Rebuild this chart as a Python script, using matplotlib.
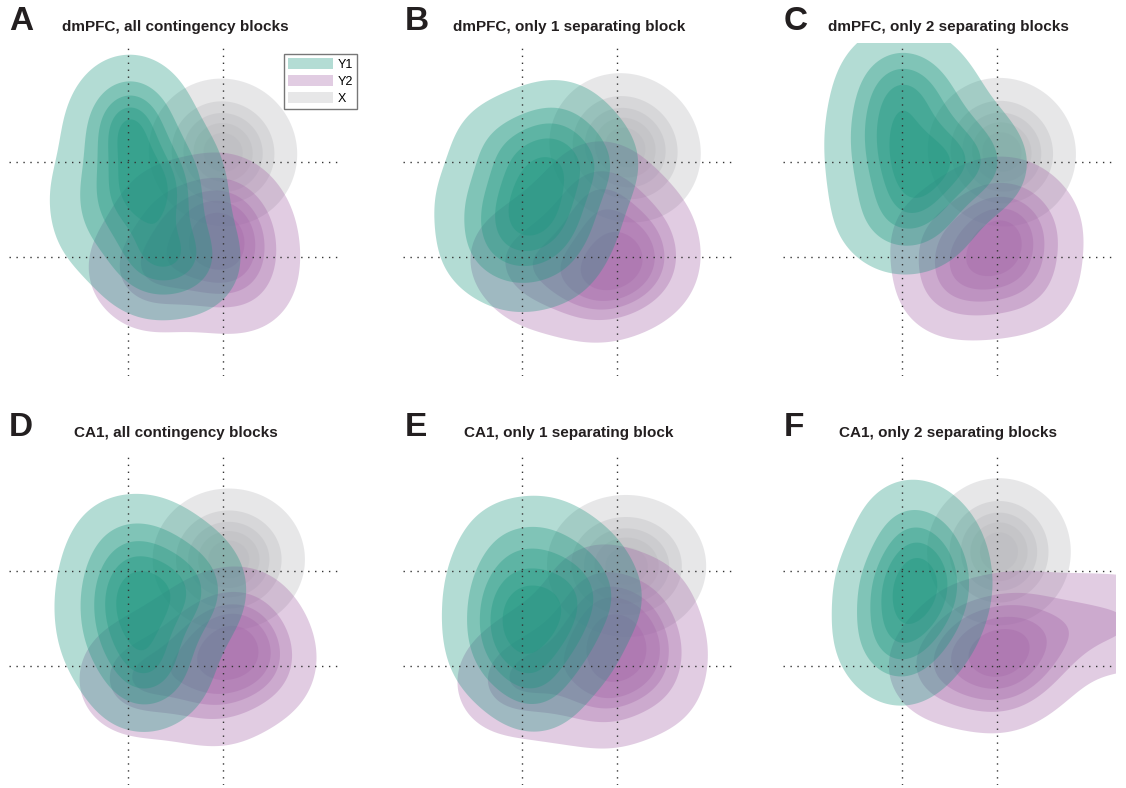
import numpy as np
import matplotlib
matplotlib.use("Agg")
from matplotlib import pyplot as plt
from matplotlib.patches import Patch

plt.rcParams['font.family'] = ['Liberation Sans', 'DejaVu Sans']

# panel letters and titles
letters = ['A', 'B', 'C', 'D', 'E', 'F']
titles = ['dmPFC, all contingency blocks', 'dmPFC, only 1 separating block',
          'dmPFC, only 2 separating blocks', 'CA1, all contingency blocks',
          'CA1, only 1 separating block', 'CA1, only 2 separating blocks']
groups = ['Y1', 'Y2', 'X']

# population vectors projected on the two axes, one list per panel and group
A_Y1 = [(0.15, 0.65), (0.1, 0.75), (0.2, 0.55), (-0.1, 1.05), (0.3, 1.1), (0.0, 1.45),
        (-0.15, 1.3), (-0.35, 0.7), (-0.3, 0.3), (0.55, 0.55), (0.5, 0.9), (0.35, 0.0),
        (0.6, 0.1), (0.05, 0.05), (0.25, -0.15), (0.0, 1.65), (0.15, 1.45), (0.7, -0.1)]
A_Y2 = [(1.0, 0.2), (0.95, 0.3), (1.05, 0.1), (1.2, 0.35), (1.25, 0.0), (0.8, 0.05),
        (0.75, 0.45), (1.0, 0.6), (0.9, -0.25), (0.55, -0.15), (0.3, 0.15), (0.05, -0.1),
        (0.4, 0.5), (1.25, -0.3), (0.25, -0.3)]
A_X = [(1.0, 1.1), (1.1, 1.2), (0.88, 1.22), (1.12, 0.98), (0.92, 1.0), (0.98, 1.25),
       (1.16, 1.08), (0.82, 1.12), (1.02, 0.95)]

B_Y1 = [(0.1, 0.5), (0.05, 0.65), (0.2, 0.4), (0.2, 1.3), (-0.25, 1.15), (-0.45, 0.6),
        (-0.4, 0.1), (-0.05, -0.1), (0.35, 0.0), (0.55, 0.4), (0.55, 0.9), (0.3, 0.85),
        (-0.1, 0.3), (0.0, 1.0), (0.75, 1.0), (0.45, 1.35)]
B_Y2 = [(0.95, -0.1), (0.9, 0.0), (1.05, 0.05), (1.2, -0.2), (0.75, -0.3), (0.5, -0.25),
        (0.15, -0.25), (-0.1, 0.0), (0.3, 0.25), (0.65, 0.45), (1.0, 0.55), (1.3, 0.3),
        (0.85, -0.3), (1.35, -0.05), (0.8, 0.75)]
B_X = [(1.08, 1.15), (1.18, 1.25), (0.98, 1.25), (1.18, 1.05), (0.98, 1.05), (1.0, 1.32),
       (1.25, 1.1), (0.88, 1.22), (1.25, 0.95)]

C_Y1 = [(0.15, 0.85), (0.1, 1.0), (0.2, 0.7), (0.0, 1.25), (-0.1, 1.5), (-0.2, 1.75),
        (-0.05, 1.95), (-0.3, 0.9), (-0.25, 0.45), (0.0, 0.3), (0.3, 0.4), (0.45, 0.9),
        (0.7, 1.05), (0.85, 0.95), (0.5, 1.3), (-0.3, 1.3), (0.35, 1.6), (0.2, 1.85)]
C_Y2 = [(1.0, 0.2), (1.05, 0.3), (0.95, 0.1), (1.25, 0.15), (1.2, -0.2), (0.8, -0.2),
        (0.6, 0.15), (0.55, -0.25), (0.9, -0.3), (1.15, 0.55), (0.8, 0.5), (1.4, 0.3),
        (0.35, 0.2), (0.45, -0.3), (1.35, -0.25)]
C_X = [(1.05, 1.1), (1.15, 1.2), (0.95, 1.2), (1.15, 1.0), (0.95, 1.0), (1.0, 1.28),
       (1.22, 1.08), (0.88, 1.15), (1.1, 0.92)]

D_Y1 = [(0.15, 0.75), (0.1, 0.85), (0.25, 0.65), (-0.2, 0.95), (-0.25, 0.6), (-0.1, 1.3),
        (0.25, 1.3), (0.55, 1.05), (0.65, 0.6), (0.4, 0.2), (0.05, 0.05), (-0.2, 0.25),
        (0.1, 0.4), (0.75, 0.85), (0.1, -0.2), (0.35, -0.1)]
D_Y2 = [(1.05, 0.15), (1.0, 0.05), (1.15, 0.25), (0.8, 0.1), (1.35, 0.3), (1.35, -0.1),
        (0.7, -0.25), (0.35, -0.2), (0.05, -0.05), (0.85, 0.45), (1.2, 0.55), (1.0, -0.35),
        (1.45, 0.05), (0.45, 0.2), (0.0, -0.2)]
D_X = [(1.06, 1.12), (1.18, 1.18), (0.94, 1.18), (1.18, 1.06), (0.94, 1.06), (1.06, 1.2),
       (1.28, 1.12), (0.84, 1.12), (1.06, 1.04)]

E_Y1 = [(0.1, 0.6), (0.05, 0.75), (0.2, 0.5), (-0.3, 0.85), (-0.3, 0.45), (-0.15, 1.25),
        (0.25, 1.3), (0.6, 1.05), (0.8, 0.7), (0.55, 0.2), (0.1, -0.05), (-0.25, 0.1),
        (0.4, 0.65), (0.0, 0.3), (0.15, -0.2)]
E_Y2 = [(1.0, 0.15), (1.05, 0.05), (1.15, 0.3), (0.85, 0.2), (1.45, 0.2), (1.4, -0.2),
        (0.75, -0.25), (0.35, -0.3), (-0.05, -0.1), (0.9, 0.6), (1.3, 0.65), (0.55, 0.35),
        (0.95, -0.35), (0.2, 0.15), (-0.2, -0.2), (0.8, 0.8)]
E_X = [(1.1, 1.05), (1.25, 1.12), (0.95, 1.12), (1.25, 0.98), (0.95, 0.98), (1.1, 1.12),
       (1.38, 1.05), (0.82, 1.08), (1.1, 0.98)]

F_Y1 = [(0.22, 0.88), (0.2, 1.0), (0.25, 0.75), (0.0, 0.95), (0.05, 1.3), (0.35, 1.25),
        (0.4, 0.85), (0.3, 0.4), (0.0, 0.25), (-0.1, 0.55), (0.15, 0.6), (0.1, 1.5),
        (0.0, 0.05), (-0.2, 0.3), (-0.2, 0.85)]
F_Y2 = [(1.05, 0.15), (1.0, 0.05), (1.15, 0.25), (0.85, 0.15), (1.3, 0.05), (1.0, -0.15),
        (0.6, -0.05), (0.35, 0.0), (0.7, 0.35), (1.25, 0.45), (1.55, 0.3), (1.9, 0.45),
        (2.4, 0.45)]
F_X = [(1.02, 1.2), (1.1, 1.3), (0.94, 1.3), (1.1, 1.1), (0.94, 1.1), (1.02, 1.36),
       (1.12, 1.2), (0.92, 1.2), (1.02, 1.05)]

panels = [(A_Y1, A_Y2, A_X), (B_Y1, B_Y2, B_X), (C_Y1, C_Y2, C_X),
          (D_Y1, D_Y2, D_X), (E_Y1, E_Y2, E_X), (F_Y1, F_Y2, F_X)]

colors = {'Y1': '#1a957e', 'Y2': '#a466a8', 'X': '#b8b8bc'}
ALPHA = 0.33
BW = 0.3
PROPS = [0.05, 0.24, 0.43, 0.62, 0.81]

grid = np.linspace(-2.2, 3.6, 291)
GX, GY = np.meshgrid(grid, grid)


def density(points):
    pts = np.asarray(points, dtype=float)
    z = np.zeros_like(GX)
    for px, py in pts:
        z += np.exp(-((GX - px) ** 2 + (GY - py) ** 2) / (2 * BW ** 2))
    return z


def iso_levels(z):
    # density thresholds that leave the given share of the mass outside
    vals = np.sort(z.ravel())
    cum = np.cumsum(vals)
    cum /= cum[-1]
    return [vals[np.searchsorted(cum, p)] for p in PROPS]


fig = plt.figure(figsize=(11.26, 7.88), dpi=100)
W, H = 1126, 788

col_left = [9, 403, 783]
row_top = [43, 452]
letter_x = [9, 405, 784]
title_x = [[62, 453, 828], [74, 464, 839]]
letter_y = [22, 428]

for i, (letter, title, data) in enumerate(zip(letters, titles, panels)):
    r, c = divmod(i, 3)
    ax = fig.add_axes([col_left[c] / W, 1 - (row_top[r] + 333) / H, 333 / W, 333 / H])
    ax.set_xlim(-1.25, 2.25)
    ax.set_ylim(-1.25, 2.25)
    ax.axis('off')

    # draw X first, then Y2, then Y1 on top
    for name, pts in [('X', data[2]), ('Y2', data[1]), ('Y1', data[0])]:
        z = density(pts)
        top = z.max() * 1.01
        for lvl in iso_levels(z):
            ax.contourf(GX, GY, z, levels=[lvl, top], colors=[colors[name]], alpha=ALPHA,
                        antialiased=True)

    for v in (0, 1):
        ax.axvline(v, color='#333333', lw=1.0, ls=(0, (1, 4)), zorder=10)
        ax.axhline(v, color='#333333', lw=1.0, ls=(0, (1, 4)), zorder=10)

    ty = letter_y[r]
    fig.text(letter_x[c] / W, 1 - ty / H, letter, fontsize=24, fontweight='bold',
             ha='left', va='center', color='#231f20')
    fig.text(title_x[r][c] / W, 1 - (ty + 5) / H, title, fontsize=11, fontweight='bold',
             ha='left', va='center', color='#231f20')

    if i == 0:
        handles = [Patch(facecolor=colors[g], alpha=ALPHA, edgecolor='none') for g in groups]
        leg = ax.legend(handles, groups, loc='upper right',
                        bbox_to_anchor=(357 / W, 1 - 54 / H), bbox_transform=fig.transFigure,
                        fontsize=9, frameon=True, fancybox=False, handlelength=3.6,
                        handleheight=1.0, labelspacing=0.35, borderpad=0.3,
                        handletextpad=0.4, borderaxespad=0)
        leg.get_frame().set_edgecolor('#555555')
        leg.get_frame().set_linewidth(1.0)

fig.savefig('out.png', dpi=100)
